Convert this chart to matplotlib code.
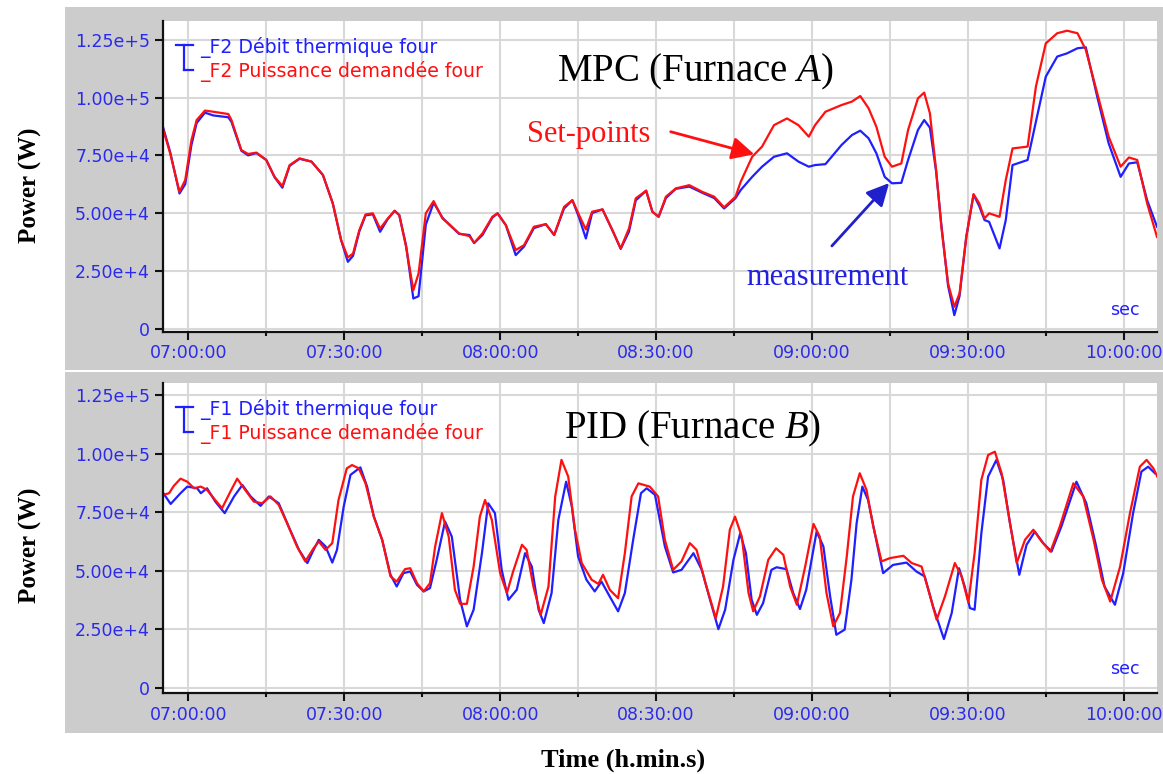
import matplotlib
matplotlib.use("Agg")
import matplotlib.pyplot as plt
from matplotlib.patches import Rectangle, FancyArrowPatch
from matplotlib.lines import Line2D

W, H = 1163, 774
KW = 1000.0

# x axis: minutes after 07:00:00
x_major = [0, 30, 60, 90, 120, 150, 180]
x_minor = [15, 45, 75, 105, 135, 165]
x_labels = ["07:00:00", "07:30:00", "08:00:00", "08:30:00", "09:00:00", "09:30:00", "10:00:00"]
y_ticks = [0, 25000, 50000, 75000, 100000, 125000]
y_labels = ["0", "2.50e+4", "5.00e+4", "7.50e+4", "1.00e+5", "1.25e+5"]

# --- MPC (furnace A), values in kW ---
mpc_t = [-4.9, -3.5, -1.7, -0.6, 0.6, 1.6, 3.2, 4.8, 7.7, 8.3, 10.2, 11.5, 13.1, 15.0, 16.6,
         18.1, 19.5, 21.4, 23.7, 25.9, 27.8, 29.4, 30.7, 31.7, 32.9, 34.1, 35.5, 36.9, 38.4,
         39.7, 40.6, 41.9, 43.3, 44.3, 45.7, 47.2, 48.9, 50.2, 52.1, 54.1, 55.0, 56.6, 58.5,
         59.5, 61.1, 63.0, 64.6, 66.5, 68.8, 70.4, 72.3, 73.9, 75.2, 76.5, 77.7, 79.7, 81.6,
         83.2, 84.8, 86.1, 88.1, 89.3, 90.5, 91.9, 93.8, 96.4, 98.9, 101.2, 103.1, 105.3,
         106.3, 108.5, 110.4, 112.7, 115.2, 117.4, 119.4, 120.6, 122.6, 125.7, 127.7, 129.3,
         130.9, 132.4, 134.0, 135.4, 137.2, 138.5, 140.4, 141.6, 142.7, 143.9, 144.9, 146.2,
         147.4, 148.4, 149.7, 151.1, 152.2, 153.2, 154.1, 156.1, 157.3, 158.6, 161.5, 163.1,
         165.0, 167.2, 169.1, 171.1, 172.7, 174.9, 177.1, 179.4, 181.0, 182.6, 184.5, 186.4]
mpc_setpoint = [86.7, 75.9, 59.2, 64.3, 81.6, 90.3, 94.4, 93.9, 92.9, 90.3, 77.3, 75.6, 76.2,
                73.0, 65.7, 61.7, 70.8, 73.7, 72.3, 66.5, 54.2, 38.3, 30.8, 32.5, 42.6, 49.4,
                49.9, 43.3, 47.7, 51.0, 49.1, 35.4, 16.6, 23.8, 49.9, 55.2, 47.7, 45.2, 41.2,
                40.0, 37.1, 41.2, 48.4, 49.9, 44.8, 34.0, 36.1, 44.1, 45.2, 40.5, 52.7, 55.6,
                49.1, 42.9, 50.6, 51.6, 42.6, 34.7, 43.4, 56.4, 59.7, 50.6, 48.4, 57.1, 60.7,
                62.1, 59.2, 57.1, 52.5, 57.1, 63.6, 74.4, 78.8, 88.1, 91.0, 88.1, 83.1, 88.1,
                93.9, 96.8, 98.3, 100.7, 95.4, 87.4, 74.4, 70.1, 71.5, 86.0, 99.7, 102.2, 93.2,
                68.6, 44.1, 19.5, 9.4, 15.2, 39.7, 58.2, 54.2, 47.7, 49.9, 48.4, 64.3, 78.0,
                78.8, 104.8, 123.5, 127.9, 129.0, 127.9, 120.7, 101.9, 83.1, 70.1, 74.1, 73.0,
                54.2, 39.7]
mpc_measure = [87.5, 76.5, 58.5, 62.5, 79.5, 89.0, 93.5, 92.3, 91.5, 89.5, 77.0, 75.0, 76.0,
               73.0, 65.5, 61.0, 70.5, 73.5, 72.3, 66.5, 54.2, 38.3, 28.9, 31.5, 42.0, 49.0,
               49.5, 41.9, 47.5, 51.0, 49.1, 36.0, 13.0, 14.0, 45.0, 54.5, 48.0, 45.0, 41.0,
               40.5, 37.0, 40.5, 48.0, 49.9, 44.8, 31.8, 35.5, 43.5, 45.2, 40.5, 52.0, 55.6,
               48.0, 39.0, 50.0, 51.6, 42.6, 34.5, 42.0, 55.5, 59.7, 50.6, 48.4, 56.5, 60.5,
               61.5, 58.8, 56.5, 52.0, 56.5, 60.0, 65.7, 70.1, 74.4, 75.9, 72.3, 70.1, 70.8,
               71.2, 79.5, 83.8, 85.7, 82.4, 75.9, 65.7, 62.9, 63.1, 73.0, 86.0, 90.3, 87.0,
               68.0, 45.0, 18.5, 5.8, 14.0, 39.7, 58.0, 53.0, 47.0, 46.2, 34.7, 47.0, 70.8,
               73.0, 89.6, 109.1, 117.8, 119.2, 121.4, 121.8, 100.4, 80.2, 65.7, 71.5, 72.0,
               55.6, 44.1]

# --- PID (furnace B), values in kW ---
pid_set_t = [-4.8, -3.7, -2.8, -1.5, -0.2, 1.1, 2.4, 3.6, 4.9, 6.5, 8.1, 9.4, 10.7, 12.6, 14.2,
             15.8, 17.4, 19.0, 20.9, 22.5, 24.1, 25.1, 26.4, 27.7, 28.9, 30.5, 31.5, 32.8, 34.1,
             35.7, 37.3, 38.9, 40.1, 41.7, 42.7, 44.0, 45.3, 46.5, 47.5, 48.8, 50.1, 51.3, 52.3,
             53.6, 54.9, 56.1, 57.1, 58.4, 60.0, 61.3, 62.5, 64.2, 65.1, 66.4, 67.8, 69.3, 70.6,
             71.8, 73.1, 74.4, 75.7, 77.6, 78.9, 79.8, 81.1, 82.7, 84.0, 85.3, 86.6, 88.8, 90.4,
             91.7, 93.3, 94.9, 96.5, 97.8, 99.7, 101.5, 102.9, 104.2, 105.2, 106.5, 107.8, 108.7,
             110.0, 111.6, 113.1, 114.5, 115.8, 117.1, 118.7, 120.3, 121.5, 122.8, 124.1, 125.4,
             126.7, 127.9, 129.2, 130.5, 131.8, 133.4, 135.0, 137.6, 139.2, 141.1, 142.4, 144.0,
             145.6, 147.5, 148.8, 150.1, 151.3, 152.6, 153.9, 155.2, 156.5, 157.8, 159.4, 161.0,
             162.6, 164.2, 165.9, 167.7, 170.3, 172.2, 174.2, 175.8, 177.4, 179.3, 181.2, 183.1,
             184.4, 185.7, 186.6]
pid_setpoint = [82.4, 83.1, 86.2, 89.3, 88.0, 85.2, 85.9, 84.5, 80.9, 76.7, 83.8, 89.3, 85.2,
                79.5, 78.8, 81.7, 78.1, 70.3, 60.4, 54.0, 59.6, 62.5, 58.9, 61.8, 80.2, 93.7,
                95.1, 93.7, 87.3, 73.1, 63.2, 47.6, 45.4, 50.7, 51.1, 44.7, 41.2, 44.7, 60.4,
                74.6, 64.6, 41.9, 35.9, 35.9, 51.8, 73.1, 80.2, 71.7, 49.0, 40.5, 49.7, 61.1,
                58.9, 43.3, 31.2, 43.3, 81.7, 97.3, 90.2, 67.5, 53.3, 46.2, 44.4, 48.3, 41.9,
                38.3, 57.5, 81.7, 87.3, 85.9, 81.7, 63.2, 50.4, 54.0, 61.8, 58.9, 43.3, 29.8,
                43.3, 67.5, 73.1, 64.6, 40.5, 32.7, 39.1, 54.7, 59.6, 56.8, 43.3, 35.5, 51.8,
                70.0, 64.6, 40.5, 26.3, 32.0, 56.1, 81.7, 91.6, 84.5, 68.9, 54.0, 55.4, 56.4,
                53.3, 51.8, 41.9, 29.1, 39.1, 53.3, 47.6, 36.5, 57.5, 88.8, 99.4, 100.8, 91.6,
                74.6, 53.3, 63.2, 67.5, 62.5, 58.2, 68.9, 87.3, 81.7, 63.2, 46.2, 36.9, 51.8,
                74.6, 94.4, 97.3, 93.7, 89.5]
pid_meas_t = [-4.8, -3.4, -1.5, -0.2, 1.7, 2.4, 3.6, 5.2, 7.0, 8.8, 10.4, 12.0, 13.9, 15.5, 17.4,
              19.3, 21.3, 22.9, 24.1, 25.1, 26.4, 27.7, 28.6, 29.9, 31.2, 33.1, 34.4, 35.7, 37.3,
              38.9, 40.1, 41.4, 42.7, 44.0, 45.3, 46.5, 47.8, 49.4, 50.7, 52.3, 53.6, 54.9, 56.5,
              57.7, 59.0, 60.3, 61.6, 63.2, 64.8, 66.1, 67.4, 68.4, 69.9, 71.2, 72.7, 73.8, 75.0,
              76.6, 78.2, 79.5, 81.1, 82.7, 84.0, 85.6, 87.1, 88.2, 89.8, 91.7, 93.3, 94.9, 97.2,
              98.8, 100.4, 102.0, 103.3, 104.9, 106.2, 107.3, 108.4, 109.4, 110.6, 112.2, 113.2,
              115.1, 116.4, 117.7, 118.9, 120.9, 122.2, 123.5, 124.7, 126.3, 127.6, 128.6, 129.7,
              130.8, 132.1, 133.7, 135.6, 138.2, 140.1, 141.7, 143.3, 145.4, 146.9, 148.3, 149.4,
              150.4, 151.3, 152.6, 153.9, 155.5, 156.8, 158.1, 159.9, 161.3, 162.9, 164.5, 166.1,
              168.0, 170.9, 172.8, 174.7, 176.3, 178.3, 179.9, 181.8, 183.4, 184.7, 186.0]
pid_measure = [83.1, 78.5, 83.1, 85.9, 85.2, 83.1, 85.2, 79.5, 74.6, 81.7, 86.6, 81.7, 77.7,
               81.7, 78.8, 68.9, 58.9, 53.3, 58.9, 63.2, 60.4, 53.5, 58.9, 77.4, 90.9, 94.1,
               85.9, 73.1, 63.2, 48.3, 43.3, 49.0, 49.7, 44.0, 41.2, 42.6, 54.7, 71.0, 64.6,
               37.6, 26.3, 33.4, 57.5, 78.8, 74.6, 50.4, 37.6, 41.9, 57.5, 51.8, 33.4, 27.7,
               40.5, 71.7, 88.0, 77.4, 56.1, 46.2, 41.2, 45.4, 39.0, 32.7, 40.5, 63.2, 83.1,
               85.2, 82.4, 60.4, 49.3, 50.4, 57.5, 50.4, 37.6, 25.1, 33.4, 54.7, 66.0, 57.5,
               37.6, 31.2, 36.2, 50.4, 51.5, 50.7, 40.5, 33.7, 41.9, 66.7, 60.4, 39.1, 22.7,
               24.9, 46.2, 70.3, 85.9, 80.2, 66.0, 49.0, 52.5, 53.5, 49.7, 47.6, 34.8, 20.9,
               32.0, 51.1, 43.3, 34.1, 33.4, 66.0, 90.2, 97.3, 88.8, 70.3, 48.3, 61.1, 66.7,
               61.8, 58.2, 68.9, 88.0, 78.8, 60.4, 43.3, 35.5, 49.0, 74.6, 92.3, 94.4, 91.6]

BLUE = "#1f1fff"
RED = "#ff1010"
TICK_BLUE = "#2a2aee"


def fx(px):
    return px / W


def fy(py):
    return 1 - py / H


plt.rcParams["mathtext.fontset"] = "custom"
plt.rcParams["mathtext.rm"] = "Liberation Serif"
plt.rcParams["mathtext.it"] = "Liberation Serif:italic"

fig = plt.figure(figsize=(W / 100, H / 100), dpi=100)
fig.patch.set_facecolor("white")

# grey panels behind each chart
for top, bot in [(7, 370), (372, 733)]:
    fig.patches.append(Rectangle((fx(65), fy(bot)), fx(W) - fx(65), fy(top) - fy(bot),
                                 transform=fig.transFigure, facecolor="#cccccc",
                                 edgecolor="none", zorder=-10))


def setup_axes(ax, ylim):
    ax.set_facecolor("white")
    ax.set_xlim(-4.97, 186.4)
    ax.set_ylim(*ylim)
    ax.set_xticks(x_major)
    ax.set_xticks(x_minor, minor=True)
    ax.set_xticklabels(x_labels)
    ax.set_yticks(y_ticks)
    ax.set_yticklabels(y_labels)
    ax.grid(True, which="both", axis="x", color="#d8d8d8", linewidth=1.5)
    ax.grid(True, which="major", axis="y", color="#d8d8d8", linewidth=1.5)
    ax.set_axisbelow(True)
    for side in ["top", "right"]:
        ax.spines[side].set_visible(False)
    for side in ["left", "bottom"]:
        ax.spines[side].set_linewidth(1.6)
        ax.spines[side].set_color("#111111")
    ax.tick_params(axis="both", which="major", length=6, width=1.5, color="#111111",
                   labelcolor=TICK_BLUE, labelsize=12.5, pad=3)
    ax.tick_params(axis="x", which="minor", length=3, width=1.5, color="#111111")


def legend_block(ax_top_px, tag):
    # bracket symbol and two coloured series names
    y1, y2 = ax_top_px + 24, ax_top_px + 49
    fig.add_artist(Line2D([fx(176), fx(193)], [fy(y1), fy(y1)], color=BLUE, lw=1.6))
    fig.add_artist(Line2D([fx(184), fx(184)], [fy(y1), fy(y2)], color=BLUE, lw=1.6))
    fig.add_artist(Line2D([fx(184), fx(193)], [fy(y2), fy(y2)], color=BLUE, lw=1.6))
    fig.text(fx(200), fy(y1 + 2), f"_{tag} Débit thermique four", color=BLUE,
             fontsize=13.6, va="center", ha="left")
    fig.text(fx(200), fy(y2 + 2), f"_{tag} Puissance demandée four", color=RED,
             fontsize=13.6, va="center", ha="left")


# ---- top: MPC ----
ax1 = fig.add_axes([fx(162.5), fy(332), fx(1157) - fx(162.5), fy(21) - fy(332)])
setup_axes(ax1, (-1500, 133200))
ax1.plot(mpc_t, [v * KW for v in mpc_measure], color=BLUE, lw=1.6)
ax1.plot(mpc_t, [v * KW for v in mpc_setpoint], color=RED, lw=1.6)
legend_block(21, "F2")

# ---- bottom: PID ----
ax2 = fig.add_axes([fx(162.5), fy(693), fx(1157) - fx(162.5), fy(383) - fy(693)])
setup_axes(ax2, (-2130, 130100))
ax2.plot(pid_meas_t, [v * KW for v in pid_measure], color=BLUE, lw=1.6)
ax2.plot(pid_set_t, [v * KW for v in pid_setpoint], color=RED, lw=1.6)
legend_block(383, "F1")

serif = "Liberation Serif"
fig.text(fx(695), fy(81), r"MPC (Furnace $\mathit{A}$)", fontsize=28, family=serif,
         ha="center", va="baseline", color="black")
fig.text(fx(693), fy(438), r"PID (Furnace $\mathit{B}$)", fontsize=28, family=serif,
         ha="center", va="baseline", color="black")
fig.text(fx(527), fy(142), "Set-points", fontsize=22, family=serif, color=RED,
         ha="left", va="baseline")
fig.text(fx(746), fy(285), "measurement", fontsize=22, family=serif, color="#2020dd",
         ha="left", va="baseline")

fig.add_artist(FancyArrowPatch((fx(668), fy(131)), (fx(757), fy(155)),
                               transform=fig.transFigure, arrowstyle="-|>,head_length=8,head_width=4",
                               color=RED, lw=2, mutation_scale=1.7))
fig.add_artist(FancyArrowPatch((fx(830), fy(248)), (fx(891), fy(181)),
                               transform=fig.transFigure, arrowstyle="-|>,head_length=8,head_width=4",
                               color="#2020cc", lw=2, mutation_scale=1.7))

for ypx in (310, 669):
    fig.text(fx(1125), fy(ypx), "sec", color=BLUE, fontsize=12.5, ha="center", va="center")

for ypx in (185, 545):
    fig.text(fx(30), fy(ypx), "Power (W)", rotation=90, fontsize=18, fontweight="bold",
             family=serif, ha="center", va="center")
fig.text(fx(623), fy(760), "Time (h.min.s)", fontsize=19, fontweight="bold", family=serif,
         ha="center", va="center")

fig.savefig("out.png", dpi=100)
plt.close(fig)
